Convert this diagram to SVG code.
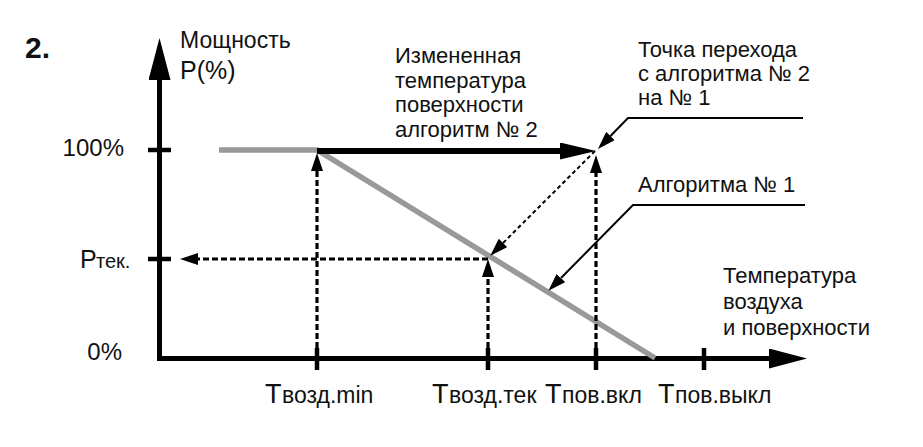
<svg xmlns="http://www.w3.org/2000/svg" width="923" height="447" viewBox="0 0 923 447">
<style>
text{font-family:"Liberation Sans",Arial,sans-serif;fill:#111}
.lbl{font-size:22px}
.ax{stroke:#000;stroke-width:5;fill:none}
.tick{stroke:#000;stroke-width:4.5}
.dash{stroke:#000;stroke-width:3.2;stroke-dasharray:6 3;fill:none}
.dash2{stroke:#000;stroke-width:2;stroke-dasharray:4 3;fill:none}
.thin{stroke:#000;stroke-width:2;fill:none}
.curve{stroke:#98999b;stroke-width:5.5;fill:none}
</style>
<defs>
<marker id="ahBigY" markerUnits="userSpaceOnUse" markerWidth="42" markerHeight="22" refX="0" refY="11" orient="auto"><path d="M0,0 L42,11 L0,22 z" fill="#000"/></marker>
<marker id="ahBigX" markerUnits="userSpaceOnUse" markerWidth="38" markerHeight="20" refX="0" refY="10" orient="auto"><path d="M0,0 L38,10 L0,20 z" fill="#000"/></marker>
<marker id="ahMid" markerUnits="userSpaceOnUse" markerWidth="36" markerHeight="17" refX="0" refY="8.5" orient="auto"><path d="M0,0 L36,8.5 L0,17 z" fill="#000"/></marker>
<marker id="ah" markerUnits="userSpaceOnUse" markerWidth="18" markerHeight="12" refX="0" refY="6" orient="auto"><path d="M0,0 L18,6 L0,12 z" fill="#000"/></marker>
</defs>

<g id="title"><text x="25" y="58" style="font-size:30px;font-weight:bold">2.</text></g>

<g id="axes">
<path class="ax" d="M159.5,361 V80" marker-end="url(#ahBigY)"/>
<path class="ax" d="M157,358.5 H769" marker-end="url(#ahBigX)"/>
<line class="tick" x1="148" y1="150" x2="171" y2="150"/>
<line class="tick" x1="148" y1="259" x2="171" y2="259"/>
<line class="tick" x1="317" y1="348" x2="317" y2="370"/>
<line class="tick" x1="488" y1="348" x2="488" y2="370"/>
<line class="tick" x1="596" y1="348" x2="596" y2="370"/>
<line class="tick" x1="704" y1="348" x2="704" y2="370"/>
</g>

<g id="algo1-curve"><path class="curve" d="M219,150 H317 L655,358"/></g>

<g id="connectors">
<path d="M317,151 H560" stroke="#000" stroke-width="6" fill="none" marker-end="url(#ahMid)"/>
<path class="dash" d="M317,357 V171" marker-end="url(#ah)"/>
<path class="dash" d="M488,357 V277" marker-end="url(#ah)"/>
<path class="dash" d="M596,357 V173" marker-end="url(#ah)"/>
<path class="dash" d="M488,259 H198" marker-end="url(#ah)"/>
<path class="dash2" d="M595,151 L503,243" marker-end="url(#ah)"/>
<path class="thin" d="M803,118 H628 L610.5,136" marker-end="url(#ah)"/>
<path class="thin" d="M805,205 H633 L561,278" marker-end="url(#ah)"/>
</g>

<g id="y-labels">
<text x="180" y="48" style="font-size:23px">Мощность</text>
<text x="180" y="79" style="font-size:25px">P(%)</text>
<text x="124" y="156" text-anchor="end" style="font-size:24px">100%</text>
<text y="268"><tspan x="80" style="font-size:25px">P</tspan><tspan x="96" style="font-size:20px">тек.</tspan></text>
<text x="122" y="360" text-anchor="end" style="font-size:24px">0%</text>
</g>

<g id="x-labels">
<text y="403"><tspan x="265" style="font-size:27px">T</tspan><tspan x="282" style="font-size:23px">возд.min</tspan></text>
<text y="403"><tspan x="432" style="font-size:27px">T</tspan><tspan x="449" style="font-size:23px">возд.тек</tspan></text>
<text y="403"><tspan x="545" style="font-size:27px">T</tspan><tspan x="562" style="font-size:23px">пов.вкл</tspan></text>
<text y="403"><tspan x="658" style="font-size:27px">T</tspan><tspan x="675" style="font-size:23px">пов.выкл</tspan></text>
</g>

<g id="label-algo2">
<text class="lbl" x="395" y="63">Измененная</text>
<text class="lbl" x="395" y="88">температура</text>
<text class="lbl" x="395" y="112">поверхности</text>
<text class="lbl" x="395" y="137">алгоритм № 2</text>
</g>

<g id="label-transition">
<text class="lbl" x="638" y="57">Точка перехода</text>
<text class="lbl" x="638" y="81">с алгоритма № 2</text>
<text class="lbl" x="638" y="105">на № 1</text>
</g>

<g id="label-algo1">
<text class="lbl" x="638" y="192">Алгоритма № 1</text>
</g>

<g id="label-x-axis">
<text class="lbl" x="723" y="283">Температура</text>
<text class="lbl" x="723" y="309">воздуха</text>
<text class="lbl" x="723" y="335">и поверхности</text>
</g>
</svg>
